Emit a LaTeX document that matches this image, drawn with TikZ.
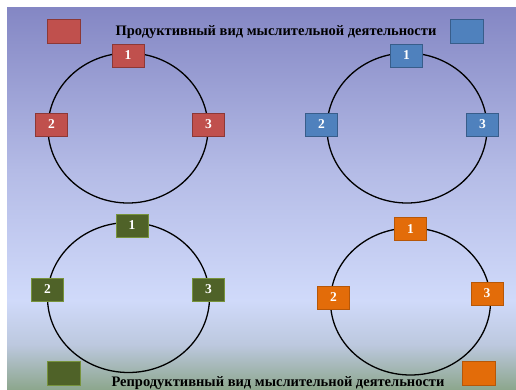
\documentclass[tikz,border=0pt]{standalone}
\usepackage{fontspec}
\setmainfont{Liberation Serif}
\definecolor{fontop}{HTML}{8487C4}
\definecolor{fonmid}{HTML}{B4BBE6}
\definecolor{fonsvet}{HTML}{D0DAFA}
\definecolor{fonser}{HTML}{BCC8DE}
\definecolor{fonniz}{HTML}{8CA68C}
\definecolor{krasn}{HTML}{C0504D}
\definecolor{krasnk}{HTML}{8C3836}
\definecolor{sin}{HTML}{4F81BD}
\definecolor{sink}{HTML}{385D8A}
\definecolor{zel}{HTML}{4F6228}
\definecolor{zelk}{HTML}{77933C}
\definecolor{oranzh}{HTML}{E36C09}
\definecolor{oranzhk}{HTML}{B65708}
\begin{document}
\begin{tikzpicture}[x=1pt, y=-1pt,
		punkt/.style={rectangle, draw, line width=0.8pt, minimum width=32pt, minimum height=23pt, inner sep=0pt, text=white, font=\fontsize{13.5}{13.5}\selectfont\bfseries},
		znak/.style={rectangle, draw, line width=0.8pt, minimum width=33pt, minimum height=24pt, inner sep=0pt},
		krug/.style={line width=1.3pt, black},
		zagolovok/.style={font=\fontsize{14.5}{14.5}\selectfont\bfseries, inner sep=0pt}]
		\useasboundingbox ( 0, 0 ) rectangle ( 516, 390 );

		% фон слайда
		\shade [top color=fontop, bottom color=fonmid] ( 7, 8 ) rectangle ( 516, 170.5 );
		\shade [top color=fonmid, bottom color=fonsvet] ( 7, 170 ) rectangle ( 516, 300.5 );
		\shade [top color=fonsvet, bottom color=fonser] ( 7, 300 ) rectangle ( 516, 345.5 );
		\shade [top color=fonser, bottom color=fonniz] ( 7, 345 ) rectangle ( 516, 390 );

		% заголовки
		\node [zagolovok] (prod) at ( 276, 32 ) {Продуктивный вид мыслительной деятельности};
		\node [zagolovok] (reprod) at ( 278, 383 ) {Репродуктивный вид мыслительной деятельности};

		% круг ( 1, 1 )
		\draw [krug] ( 128, 128 ) ellipse [x radius=80, y radius=75];
		\node [znak, fill=krasn, draw=krasnk] (rznak) at ( 63.5, 31 ) {};
		\node [punkt, fill=krasn, draw=krasnk] (r1) at ( 128, 55.5 ) {1};
		\node [punkt, fill=krasn, draw=krasnk] (r2) at ( 51.5, 124.5 ) {2};
		\node [punkt, fill=krasn, draw=krasnk] (r3) at ( 208.5, 124.5 ) {3};

		% круг ( 1, 2 )
		\draw [krug] ( 407, 128 ) ellipse [x radius=80, y radius=75];
		\node [znak, fill=sin, draw=sink] (bznak) at ( 466.5, 31 ) {};
		\node [punkt, fill=sin, draw=sink] (b1) at ( 406.5, 55.5 ) {1};
		\node [punkt, fill=sin, draw=sink] (b2) at ( 321.5, 124.5 ) {2};
		\node [punkt, fill=sin, draw=sink] (b3) at ( 482.5, 124.5 ) {3};

		% круг ( 2, 1 )
		\draw [krug] ( 128.5, 297.5 ) ellipse [x radius=81, y radius=75];
		\node [znak, fill=zel, draw=zelk] (gznak) at ( 63.5, 373.5 ) {};
		\node [punkt, fill=zel, draw=zelk] (g1) at ( 132, 225.5 ) {1};
		\node [punkt, fill=zel, draw=zelk] (g2) at ( 47.5, 289.5 ) {2};
		\node [punkt, fill=zel, draw=zelk] (g3) at ( 208.5, 289.5 ) {3};

		% круг ( 2, 2 )
		\draw [krug] ( 410.5, 301.5 ) ellipse [x radius=80, y radius=73.5];
		\node [znak, fill=oranzh, draw=oranzhk] (oznak) at ( 479, 373.5 ) {};
		\node [punkt, fill=oranzh, draw=oranzhk] (o1) at ( 410.5, 229 ) {1};
		\node [punkt, fill=oranzh, draw=oranzhk] (o2) at ( 333.5, 297.5 ) {2};
		\node [punkt, fill=oranzh, draw=oranzhk] (o3) at ( 487, 293.5 ) {3};
	\end{tikzpicture}
\end{document}
